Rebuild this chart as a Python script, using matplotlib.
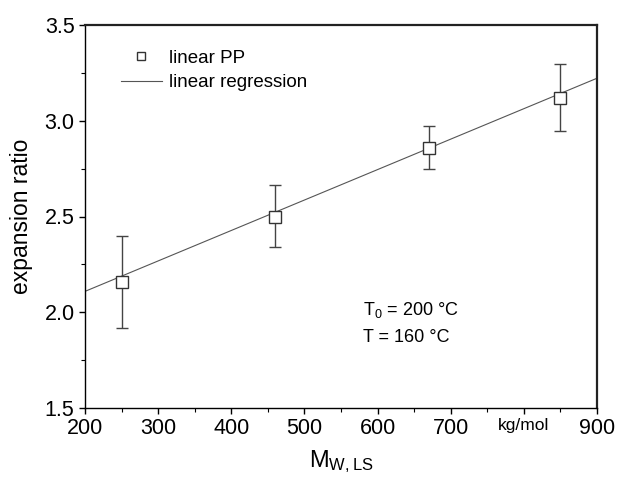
import matplotlib
matplotlib.use("Agg")
import matplotlib.pyplot as plt
import numpy as np

plt.rcParams['font.family'] = ['Liberation Sans', 'DejaVu Sans']
plt.rcParams['mathtext.default'] = 'regular'

# Measured expansion ratios vs. weight-average molar mass
mw = [250, 460, 670, 850]
expansion = [2.16, 2.50, 2.86, 3.12]
err_upper = [0.24, 0.165, 0.11, 0.175]
err_lower = [0.24, 0.16, 0.11, 0.175]

# Linear regression line (intercept, slope)
reg_intercept = 1.791
reg_slope = 0.00159

x_ticks = [200, 300, 400, 500, 600, 700, 800, 900]
x_ticklabels = ['200', '300', '400', '500', '600', '700', 'kg/mol', '900']
y_ticks = [1.5, 2.0, 2.5, 3.0, 3.5]

fig = plt.figure(figsize=(6.17, 4.84), dpi=100)
ax = fig.add_axes([85 / 617, 1 - 408 / 484, (597 - 85) / 617, (408 - 25) / 484])

xr = np.array([200, 900])
ax.plot(xr, reg_intercept + reg_slope * xr, color='#555555', lw=0.8,
        label='linear regression', zorder=2)
ax.errorbar(mw, expansion, yerr=[err_lower, err_upper], fmt='none',
            ecolor='#444444', elinewidth=1.0, capsize=4, capthick=1.0, zorder=3)
ax.plot(mw, expansion, ls='none', marker='s', ms=8.5, mfc='white',
        mec='#333333', mew=1.0, label='linear PP', zorder=4)

ax.set_xlim(200, 900)
ax.set_ylim(1.5, 3.5)
ax.set_xticks(x_ticks)
ax.set_xticklabels(x_ticklabels)
ax.set_yticks(y_ticks)
ax.set_yticklabels([f'{v:.1f}' for v in y_ticks])
ax.set_xticks(np.arange(250, 900, 100), minor=True)
ax.set_yticks(np.arange(1.75, 3.5, 0.5), minor=True)
ax.tick_params(which='major', direction='out', length=4.5, width=1.0,
               labelsize=15.5, pad=3, top=False, right=False)
ax.tick_params(which='minor', direction='out', length=3, width=0.8,
               top=False, right=False)
for lbl in ax.get_xticklabels():
    if lbl.get_text() == 'kg/mol':
        lbl.set_fontsize(12.5)

for side in ('left', 'bottom'):
    ax.spines[side].set_linewidth(1.0)
for side in ('top', 'right'):
    ax.spines[side].set_linewidth(1.6)
    ax.spines[side].set_color('#222222')

ax.set_ylabel('expansion ratio', fontsize=16.5, labelpad=8)
ax.set_xlabel('M$_{W,LS}$', fontsize=17, labelpad=6)

handles, labels = ax.get_legend_handles_labels()
order = [1, 0]
ax.legend([handles[i] for i in order], [labels[i] for i in order],
          frameon=False, fontsize=13.5, loc='upper left',
          bbox_to_anchor=(0.055, 0.955), handlelength=2.2,
          handletextpad=0.4, labelspacing=0.38, borderaxespad=0,
          markerscale=0.7)

ax.text(580, 2.01, 'T$_0$ = 200 °C', fontsize=13, va='center')
ax.text(580, 1.87, 'T = 160 °C', fontsize=13, va='center')

fig.savefig('out.png', dpi=100)
